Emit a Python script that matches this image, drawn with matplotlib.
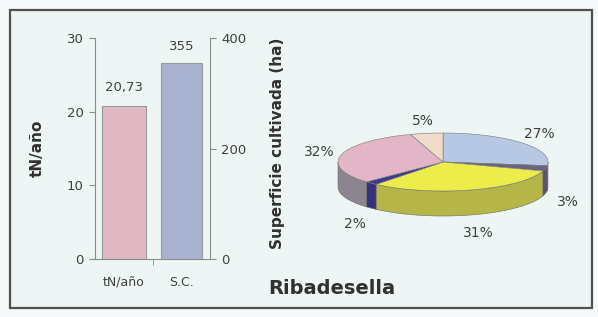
import numpy as np
import matplotlib.pyplot as plt
from matplotlib.patches import Rectangle, Polygon

plt.rcParams['font.family'] = ['DejaVu Sans']

# data
bar_cats = ["tN/año", "S.C."]
tn_year = 20.73          # left axis
sup_cult = 355           # right axis (ha)
pie_pcts = [27, 3, 31, 2, 32, 5]   # clockwise from 12 o'clock
pie_top = ["#b6c8e4", "#6a6282", "#ecec4a", "#3e3c8a", "#e2b6c6", "#f0dcc8"]
pie_side = ["#8e94b0", "#5a5270", "#b6b648", "#34327a", "#8c8490", "#c0aa9a"]
place = "Ribadesella"

W, H = 598, 317
fig = plt.figure(figsize=(W / 100, H / 100), dpi=100)
fig.patch.set_facecolor("#f5f9f9")

# outer frame
fig.patches.append(Rectangle((10 / W, 1 - 308 / H), 582 / W, 298 / H,
                             transform=fig.transFigure, facecolor="#eef5f5",
                             edgecolor="#505050", lw=1.6, zorder=-10))

# ---------------- bars ----------------
ax = fig.add_axes([95 / W, (H - 259) / H, 115 / W, 221 / H])
ax.patch.set_alpha(0)
ax2 = ax.twinx()
ax.bar(0, tn_year, width=0.76, color="#e0b8c4", edgecolor="#9a9a9a", lw=0.8)
ax2.bar(1, sup_cult, width=0.72, color="#aab2d2", edgecolor="#9a9a9a", lw=0.8)
ax.set_xlim(-0.5, 1.5)
ax.set_ylim(0, 30)
ax2.set_ylim(0, 400)
ax.set_yticks([0, 10, 20, 30])
ax2.set_yticks([0, 200, 400])

gray = "#8a8a8a"
txt = "#404040"
for a in (ax, ax2):
    a.spines["top"].set_visible(False)
    for s in a.spines.values():
        s.set_color(gray)
        s.set_linewidth(0.8)
ax.spines["right"].set_visible(False)
ax2.spines["left"].set_visible(False)
ax2.spines["bottom"].set_visible(False)

ax.set_xticks([0, 1])
ax.set_xticklabels(bar_cats)
ax.set_xticks([0.5], minor=True)
ax.tick_params(axis="x", which="major", length=0, pad=12, labelsize=9, labelcolor=txt)
ax.tick_params(axis="x", which="minor", length=4, color=gray)
ax.tick_params(axis="y", length=4, color=gray, pad=4, labelsize=9.5, labelcolor=txt)
ax2.tick_params(axis="y", length=4, color=gray, pad=4, labelsize=9.5, labelcolor=txt)

ax.annotate(f"{tn_year:.2f}".replace(".", ","), (0, tn_year), xytext=(0, 9),
            textcoords="offset points", ha="center", va="bottom", fontsize=9.5, color=txt)
ax2.annotate(f"{sup_cult}", (1, sup_cult), xytext=(0, 7),
             textcoords="offset points", ha="center", va="bottom", fontsize=9.5, color=txt)

ax.set_ylabel("tN/año", fontsize=11, fontweight="bold", color="#303030")
ax.yaxis.set_label_coords(-0.435, 0.5)
ax2.set_ylabel("Superficie cultivada (ha)", fontsize=11, fontweight="bold", color="#303030")
ax2.yaxis.set_label_coords(1.52, 0.525)

fig.text(332 / W, 1 - 289 / H, place, ha="center", va="center",
         fontsize=14, fontweight="bold", color="#303030")

# ---------------- 3D pie ----------------
pax = fig.add_axes([320 / W, (H - 240) / H, 246 / W, 130 / H])
pax.set_xlim(-123, 123)
pax.set_ylim(-65, 65)
pax.axis("off")
cy, rx, ry, depth = 13, 105, 29, 25


def ell(t):
    t = np.radians(t)
    return rx * np.sin(t), cy + ry * np.cos(t)


edges = np.concatenate([[0], np.cumsum(pie_pcts)]) * 3.6
# side walls (front half only)
for i in range(len(pie_pcts)):
    s0, s1 = max(edges[i], 90), min(edges[i + 1], 270)
    if s1 <= s0:
        continue
    t = np.linspace(s0, s1, 60)
    x, y = ell(t)
    pts = np.column_stack([np.r_[x, x[::-1]], np.r_[y, y[::-1] - depth]])
    pax.add_patch(Polygon(pts, closed=True, facecolor=pie_side[i],
                          edgecolor="#6a6a6a", lw=0.4))
# top face
for i in range(len(pie_pcts)):
    t = np.linspace(edges[i], edges[i + 1], 80)
    x, y = ell(t)
    pts = np.column_stack([np.r_[0, x], np.r_[cy, y]])
    pax.add_patch(Polygon(pts, closed=True, facecolor=pie_top[i],
                          edgecolor="#7a7a7a", lw=0.4))
# labels
for i, p in enumerate(pie_pcts):
    m = np.radians((edges[i] + edges[i + 1]) / 2)
    lx = 128 * np.sin(m)
    ly = cy + 42 * np.cos(m) - (depth + 6 if np.cos(m) < 0 else 0)
    pax.text(lx, ly, f"{p}%", ha="center", va="center", fontsize=10, color=txt)

fig.savefig("out.png", dpi=100, facecolor=fig.get_facecolor())
